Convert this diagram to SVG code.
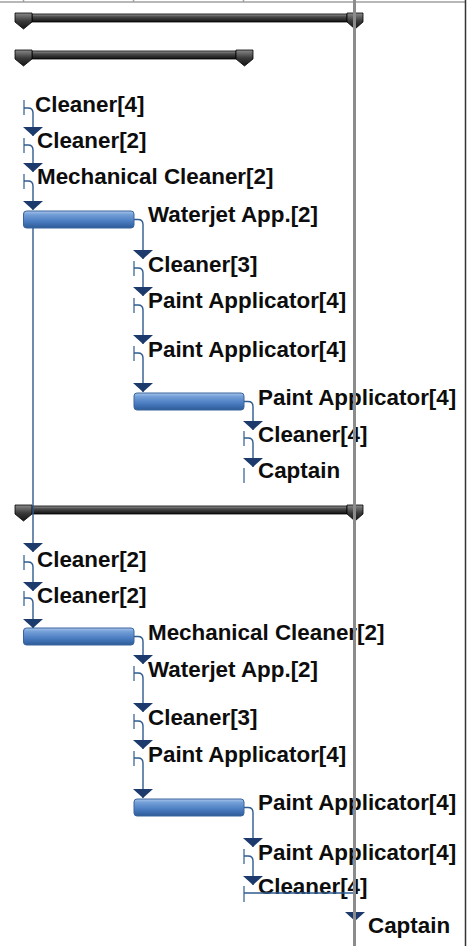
<svg xmlns="http://www.w3.org/2000/svg" width="472" height="946" viewBox="0 0 472 946">
<style>
.lbl{font-family:"Liberation Sans",Arial,sans-serif;font-weight:bold;font-size:22.4px;fill:#0d0d0d}
.mark{stroke:#2f5b8f;stroke-width:1.2;fill:none}
.conn{stroke:#2f5b8f;stroke-width:1.4;fill:none;marker-end:url(#ah)}
.bar{fill:url(#barg);stroke:#3a659c;stroke-width:1}
.sbar{fill:url(#sumg);stroke:#000;stroke-width:0.8}
.scap{fill:url(#capg);stroke:#000;stroke-width:0.8}
.grid{stroke:#a0a0a0;stroke-width:1.5}
</style>
<defs>
<linearGradient id="barg" x1="0" y1="0" x2="0" y2="1">
<stop offset="0" stop-color="#a9c5ec"/>
<stop offset="0.2" stop-color="#75a0d8"/>
<stop offset="0.6" stop-color="#4b7dc1"/>
<stop offset="1" stop-color="#2d5b98"/>
</linearGradient>
<linearGradient id="sumg" x1="0" y1="0" x2="0" y2="1">
<stop offset="0" stop-color="#9a9a9a"/>
<stop offset="0.35" stop-color="#4a4a4a"/>
<stop offset="1" stop-color="#101010"/>
</linearGradient>
<linearGradient id="capg" x1="0" y1="0" x2="0" y2="1">
<stop offset="0" stop-color="#8a8a8a"/>
<stop offset="0.5" stop-color="#3a3a3a"/>
<stop offset="1" stop-color="#151515"/>
</linearGradient>
<marker id="ah" viewBox="-9 -10 9 20" refX="0" refY="0" markerWidth="9" markerHeight="20" markerUnits="userSpaceOnUse" orient="auto">
<path d="M-9,-10 L0,0 L-9,10 Z" fill="#1c3a6b"/>
</marker>
</defs>

<g id="header">
<line class="grid" x1="0" y1="2" x2="466" y2="2"/>
<line class="grid" x1="23.5" y1="0" x2="23.5" y2="2"/>
<line class="grid" x1="133.5" y1="0" x2="133.5" y2="2"/>
<line class="grid" x1="243.5" y1="0" x2="243.5" y2="2"/>
</g>

<g id="summary1">
<rect class="sbar" x="32" y="14" width="315" height="8"/>
<path class="scap" d="M15,13 H32 V22 L23.5,29 L15,22 Z"/>
<path class="scap" d="M347,13 H363 V22 L355,29 L347,22 Z"/>
</g>
<g id="summary2">
<rect class="sbar" x="32" y="51" width="204" height="8"/>
<path class="scap" d="M15,50 H32 V59 L23.5,66 L15,59 Z"/>
<path class="scap" d="M236,50 H253 V59 L244.5,66 L236,59 Z"/>
</g>
<g id="summary3">
<rect class="sbar" x="32" y="506" width="315" height="8"/>
<path class="scap" d="M15,505 H32 V514 L23.5,521 L15,514 Z"/>
<path class="scap" d="M347,505 H363 V514 L355,521 L347,514 Z"/>
</g>

<g id="taskA"><line class="mark" x1="24" y1="100" x2="24" y2="115"/><text class="lbl" x="35" y="112">Cleaner[4]</text></g>
<g id="taskB"><line class="mark" x1="24" y1="138" x2="24" y2="153"/><text class="lbl" x="37" y="148">Cleaner[2]</text></g>
<g id="taskC"><line class="mark" x1="24" y1="174" x2="24" y2="189"/><text class="lbl" x="37" y="184">Mechanical Cleaner[2]</text></g>
<g id="taskD"><rect class="bar" x="23.5" y="211" width="110.5" height="17" rx="3"/><text class="lbl" x="148" y="222">Waterjet App.[2]</text></g>
<g id="taskE"><line class="mark" x1="134" y1="261" x2="134" y2="276"/><text class="lbl" x="148" y="272">Cleaner[3]</text></g>
<g id="taskF"><line class="mark" x1="134" y1="298" x2="134" y2="313"/><text class="lbl" x="148" y="308">Paint Applicator[4]</text></g>
<g id="taskG"><line class="mark" x1="134" y1="346" x2="134" y2="361"/><text class="lbl" x="148" y="357">Paint Applicator[4]</text></g>
<g id="taskH"><rect class="bar" x="134" y="393" width="110" height="17" rx="3"/><text class="lbl" x="258" y="405">Paint Applicator[4]</text></g>
<g id="taskI"><line class="mark" x1="244" y1="431" x2="244" y2="446"/><text class="lbl" x="258" y="442">Cleaner[4]</text></g>
<g id="taskJ"><line class="mark" x1="244" y1="468" x2="244" y2="483"/><text class="lbl" x="258" y="478">Captain</text></g>

<g id="taskK"><line class="mark" x1="24" y1="555" x2="24" y2="570"/><text class="lbl" x="37" y="567">Cleaner[2]</text></g>
<g id="taskL"><line class="mark" x1="24" y1="591" x2="24" y2="606"/><text class="lbl" x="37" y="603">Cleaner[2]</text></g>
<g id="taskM"><rect class="bar" x="23.5" y="628" width="110.5" height="17" rx="3"/><text class="lbl" x="148" y="640">Mechanical Cleaner[2]</text></g>
<g id="taskN"><line class="mark" x1="134" y1="666" x2="134" y2="681"/><text class="lbl" x="148" y="677">Waterjet App.[2]</text></g>
<g id="taskO"><line class="mark" x1="134" y1="714" x2="134" y2="729"/><text class="lbl" x="148" y="725">Cleaner[3]</text></g>
<g id="taskP"><line class="mark" x1="134" y1="751" x2="134" y2="766"/><text class="lbl" x="148" y="762">Paint Applicator[4]</text></g>
<g id="taskQ"><rect class="bar" x="134" y="799" width="110" height="17" rx="3"/><text class="lbl" x="258" y="810">Paint Applicator[4]</text></g>
<g id="taskR"><line class="mark" x1="244" y1="849" x2="244" y2="864"/><text class="lbl" x="258" y="860">Paint Applicator[4]</text></g>
<g id="taskS"><line class="mark" x1="244" y1="886" x2="244" y2="902"/><text class="lbl" x="258" y="894">Cleaner[4]</text></g>
<g id="taskT"><text class="lbl" x="368" y="933">Captain</text></g>

<g id="connectors">
<path class="conn" d="M24,108 h4 q5,0 5,5 V136"/>
<path class="conn" d="M24,145 h4 q5,0 5,5 V172"/>
<path class="conn" d="M24,181 h4 q5,0 5,5 V210"/>
<path class="conn" d="M134,219.5 h4 q5,0 5,5 V259"/>
<path class="conn" d="M134,268 h4 q5,0 5,5 V296"/>
<path class="conn" d="M134,305 h4 q5,0 5,5 V344"/>
<path class="conn" d="M134,353 h4 q5,0 5,5 V392"/>
<path class="conn" d="M244,401.5 h4 q5,0 5,5 V430"/>
<path class="conn" d="M244,438 h4 q5,0 5,5 V467"/>
<path class="conn" d="M33,228 V552"/>
<path class="conn" d="M24,562 h4 q5,0 5,5 V591"/>
<path class="conn" d="M24,598 h4 q5,0 5,5 V628"/>
<path class="conn" d="M134,636.5 h4 q5,0 5,5 V664"/>
<path class="conn" d="M134,673 h4 q5,0 5,5 V712"/>
<path class="conn" d="M134,721 h4 q5,0 5,5 V749"/>
<path class="conn" d="M134,758 h4 q5,0 5,5 V798"/>
<path class="conn" d="M244,807.5 h4 q5,0 5,5 V847"/>
<path class="conn" d="M244,856 h4 q5,0 5,5 V885"/>
<path class="conn" d="M244,893 H355 V921"/>
</g>

<g id="timeline">
<line x1="354.5" y1="0" x2="354.5" y2="946" stroke="#8c8c8c" stroke-width="3"/>
<line x1="465.5" y1="0" x2="465.5" y2="946" stroke="#333" stroke-width="1.5"/>
</g>
</svg>
